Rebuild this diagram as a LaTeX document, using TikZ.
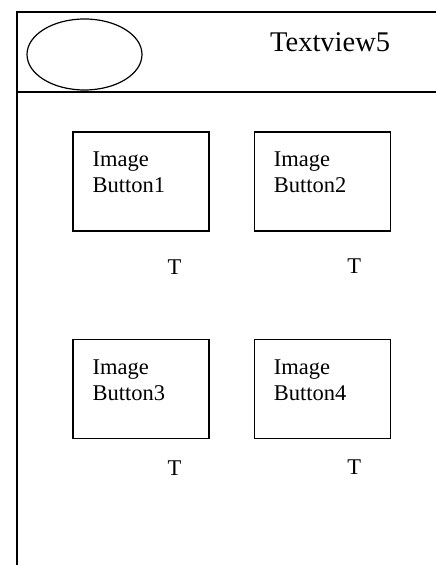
\documentclass[tikz,border=0pt]{standalone}
\usepackage{fontspec}
\setmainfont{Liberation Serif}
\usetikzlibrary{calc,positioning,shapes.geometric}

\tikzset{
    frame/.style={line width=1.3pt},
    btn/.style={rectangle, draw, line width=1.3pt, minimum width=136pt, minimum height=99pt,
        label={[anchor=north west, align=left, inner sep=0pt, xshift=20pt, yshift=-20.5pt,
                font=\fontsize{22.5}{26}\selectfont]north west:#1}},
    tlabel/.style={inner sep=0pt, font=\fontsize{22.5}{27}\selectfont}
}

\begin{document}
\begin{tikzpicture}[x=1pt, y=1pt]
        \useasboundingbox (0,0) rectangle (436,565);

        % screen frame and title bar
        \draw[frame] (436,553) -| (17,0);
        \draw[frame] (17,473) -- (436,473);
        \node[ellipse, draw, line width=1.2pt, minimum width=115pt, minimum height=71pt, inner sep=0pt] (logo) at (84.5,510.5) {};
        \node[anchor=base west, inner sep=0pt, font=\fontsize{28.5}{34}\selectfont] (title) at (270,513) {Textview5};

        % buttons
        \node[btn={Image\\Button1}] (b1) at (141,383.5) {};
        \node[btn={Image\\Button2}, right=44pt of b1] (b2) {};
        \node[btn={Image\\Button3}, below=107pt of b1] (b3) {};
        \node[btn={Image\\Button4}, right=44pt of b3] (b4) {};

        \node[tlabel] (t1) at ($(b1.south)+(33.5,-35.5)$) {T};
        \node[tlabel] (t2) at ($(b2.south)+(32,-34)$) {T};
        \node[tlabel] (t3) at ($(b3.south)+(33.5,-29.5)$) {T};
        \node[tlabel] (t4) at ($(b4.south)+(32,-28)$) {T};
    \end{tikzpicture}
\end{document}
